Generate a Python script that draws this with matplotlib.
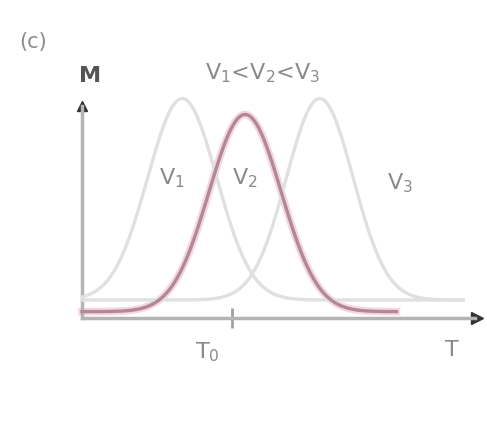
import numpy as np
import matplotlib.pyplot as plt

# peak parameters for the three curves (T in arbitrary units, M normalised)
curve_names = ["V$_1$", "V$_2$", "V$_3$"]
peak_centers = [2.55, 4.15, 6.05]
peak_widths = [0.88, 0.92, 0.85]
peak_heights = [0.95, 0.93, 0.95]
base_levels = [0.085, 0.03, 0.085]
t_ends = [9.7, 8.0, 9.7]
curve_colors = ["#e0e0e0", "#b08898", "#e0e0e0"]
t0_value = 3.82

W, H = 487, 425
fig = plt.figure(figsize=(W / 100, H / 100), dpi=100)
ax = fig.add_axes([82 / W, 1 - 318 / H, (475 - 82) / W, (318 - 106) / H])
ax.set_xlim(0, 10)
ax.set_ylim(0, 1.0)

order = [0, 2, 1]  # highlighted curve on top
for i in order:
    t = np.linspace(0, t_ends[i], 400)
    m = base_levels[i] + peak_heights[i] * np.exp(-0.5 * ((t - peak_centers[i]) / peak_widths[i]) ** 2)
    if i == 1:
        ax.plot(t, m, color="#f7d6e2", lw=5.5, clip_on=False, zorder=2)
    ax.plot(t, m, color=curve_colors[i], lw=2.4, clip_on=False, zorder=3)

# axes drawn as arrows
for s in ["top", "right"]:
    ax.spines[s].set_visible(False)
ax.spines["left"].set_color("#b4b4b4")
ax.spines["bottom"].set_color("#b4b4b4")
ax.spines["left"].set_linewidth(2.5)
ax.spines["bottom"].set_linewidth(2.5)
ax.plot(1.005, 0, ">", color="#333333", ms=9, transform=ax.transAxes, clip_on=False)
ax.plot(0, 1, "^", color="#333333", ms=7, transform=ax.transAxes, clip_on=False)
ax.set_xticks([t0_value])
ax.set_xticklabels([])
ax.tick_params(axis="x", direction="inout", length=14, width=2, color="#a0a0a0")
ax.set_yticks([])

def ftext(x, y, s, **kw):
    fig.text(x / W, 1 - y / H, s, ha="center", va="center", **kw)

ftext(33, 42, "(c)", fontsize=15, color="#8c8c8c")
ftext(90, 76, "M", fontsize=16, color="#555555", fontweight="bold")
ftext(263, 73, "V$_1$<V$_2$<V$_3$", fontsize=16, color="#8a8a8a")
ftext(172, 178, curve_names[0], fontsize=16, color="#8a8a8a")
ftext(245, 178, curve_names[1], fontsize=16, color="#8a8a8a")
ftext(400, 183, curve_names[2], fontsize=16, color="#8a8a8a")
ftext(207, 352, "T$_0$", fontsize=16, color="#8a8a8a")
ftext(452, 350, "T", fontsize=16, color="#8a8a8a")

fig.savefig("out.png", dpi=100)
